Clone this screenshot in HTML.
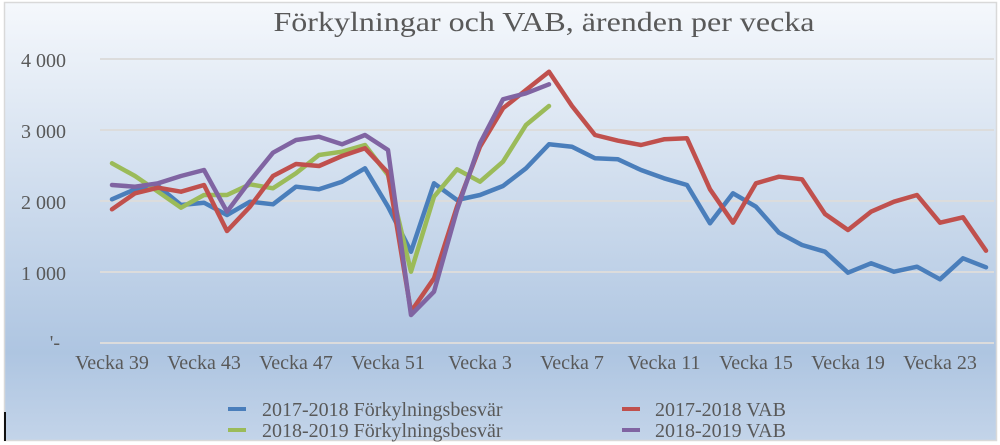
<!DOCTYPE html>
<html><head><meta charset="utf-8"><style>
html,body{margin:0;padding:0;background:#fff;width:1000px;height:445px;overflow:hidden}
svg{display:block}
text{font-family:"Liberation Serif",serif;fill:#595959}
</style></head><body>
<svg id="s" width="1000" height="445" viewBox="0 0 1000 445">
<defs><linearGradient id="g" x1="0" y1="0" x2="0" y2="1">
<stop offset="0" stop-color="#f5f8fc"/><stop offset="0.8" stop-color="#aec5e1"/><stop offset="1" stop-color="#c3d4e9"/></linearGradient></defs>
<rect x="4.5" y="2.5" width="992" height="438" fill="url(#g)" stroke="#d9d9d9" stroke-width="1.5"/>
<text x="544" y="31" font-size="27" text-anchor="middle" textLength="541" lengthAdjust="spacingAndGlyphs">Förkylningar och VAB, ärenden per vecka</text>
<g stroke="#dcdcdc" stroke-width="2">
<line x1="100" y1="59" x2="994" y2="59"/><line x1="100" y1="130" x2="994" y2="130"/>
<line x1="100" y1="201" x2="994" y2="201"/><line x1="100" y1="272" x2="994" y2="272"/>
<line x1="100" y1="343" x2="994" y2="343"/></g>
<g font-size="20" text-anchor="end">
<text x="66" y="67">4 000</text><text x="66" y="138">3 000</text><text x="66" y="209">2 000</text><text x="66" y="280">1 000</text><text x="60" y="349">'-</text></g>
<g font-size="20" text-anchor="middle">
<text x="112" y="369">Vecka 39</text><text x="204" y="369">Vecka 43</text><text x="296" y="369">Vecka 47</text><text x="388" y="369">Vecka 51</text><text x="480" y="369">Vecka 3</text><text x="572" y="369">Vecka 7</text><text x="664" y="369">Vecka 11</text><text x="756" y="369">Vecka 15</text><text x="848" y="369">Vecka 19</text><text x="940" y="369">Vecka 23</text></g>
<g id="lines" fill="none" stroke-width="4.5" stroke-linejoin="round" stroke-linecap="round"></g>
<g stroke-width="4">
<line x1="228" y1="409" x2="246" y2="409" stroke="#4a7ebb"/>
<line x1="228" y1="430" x2="246" y2="430" stroke="#9bbb59"/>
<line x1="622" y1="409" x2="640" y2="409" stroke="#c0504d"/>
<line x1="622" y1="430" x2="640" y2="430" stroke="#8064a2"/></g>
<g font-size="20">
<text x="262" y="416">2017-2018 Förkylningsbesvär</text>
<text x="262" y="437">2018-2019 Förkylningsbesvär</text>
<text x="655" y="416">2017-2018 VAB</text>
<text x="655" y="437">2018-2019 VAB</text></g>
<rect x="4" y="412" width="2" height="29" fill="#111"/>
</svg>
<script>
var S={
"#4a7ebb":[448,418,408,465,458,495,455,463,410,418,395,355,470,605,400,450,435,408,355,283,290,325,328,360,385,405,520,430,470,548,585,605,668,640,665,650,688,625,652],
"#c0504d":[478,430,413,425,405,543,470,378,342,348,318,295,368,785,685,470,290,175,120,65,168,255,272,285,268,265,418,518,400,380,388,492,540,485,455,435,518,502,602],
"#9bbb59":[340,378,425,473,435,435,403,415,370,315,305,285,375,665,440,358,395,335,225,168],
"#8064a2":[405,410,400,378,360,485,393,308,270,260,283,255,300,795,725,480,280,148,130,103]};
var order=["#4a7ebb","#9bbb59","#c0504d","#8064a2"];
var g=document.getElementById("lines");
order.forEach(function(c){var p=S[c].map(function(v,i){return (112+23*i)+","+(50+v/3).toFixed(1)}).join(" ");
var e=document.createElementNS("http://www.w3.org/2000/svg","polyline");e.setAttribute("points",p);e.setAttribute("stroke",c);g.appendChild(e);});
</script>
</body></html>
